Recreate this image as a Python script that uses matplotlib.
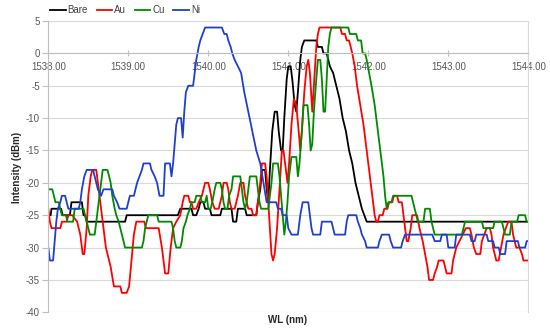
import numpy as np
import matplotlib.pyplot as plt
from matplotlib.ticker import FormatStrFormatter

plt.rcParams['font.family'] = ['Liberation Sans', 'DejaVu Sans']
plt.rcParams['axes.unicode_minus'] = False

# turning points (wavelength in nm, intensity in dBm)
bare_wl = [1538.00, 1538.03, 1538.04, 1538.16, 1538.18, 1538.27, 1538.29, 1538.42, 1538.44, 1538.46,
           1538.48, 1538.96, 1538.98, 1539.62, 1539.65, 1539.79, 1539.81, 1539.85, 1539.88, 1539.90,
           1539.94, 1539.96, 1540.02, 1540.04, 1540.15, 1540.17, 1540.29, 1540.31, 1540.35, 1540.37,
           1540.46, 1540.48, 1540.60, 1540.62, 1540.65, 1540.67, 1540.71, 1540.73, 1540.75, 1540.77,
           1540.80, 1540.83, 1540.86, 1540.88, 1540.91, 1540.93, 1540.95, 1540.98, 1541.00, 1541.03,
           1541.05, 1541.08, 1541.10, 1541.12, 1541.15, 1541.17, 1541.20, 1541.35, 1541.37, 1541.42,
           1541.44, 1541.48, 1541.50, 1541.52, 1541.56, 1541.60, 1541.64, 1541.68, 1541.72, 1541.76,
           1541.80, 1541.84, 1541.88, 1541.92, 1541.95, 1541.98, 1544.00]
bare_db = [-25, -25, -24, -24, -25, -25, -23, -23, -25, -25,
           -26, -26, -25, -25, -24, -24, -25, -25, -24, -23,
           -23, -24, -24, -25, -25, -24, -24, -26, -26, -24,
           -24, -25, -25, -23, -21, -18, -18, -21, -23, -18,
           -12, -9, -9, -12, -15, -15, -10, -4, -2, -2,
           -4, -8, -9, -6, -1, 1, 2, 2, 1, 1,
           0, 0, -1, -2, -3, -5, -7, -10, -12, -15,
           -17, -20, -22, -24, -25, -26, -26]

au_wl = [1538.00, 1538.02, 1538.04, 1538.15, 1538.17, 1538.23, 1538.25, 1538.30, 1538.36, 1538.40,
         1538.43, 1538.45, 1538.48, 1538.50, 1538.53, 1538.55, 1538.60, 1538.63, 1538.67, 1538.72,
         1538.78, 1538.82, 1538.90, 1538.92, 1538.98, 1539.01, 1539.04, 1539.07, 1539.10, 1539.20,
         1539.22, 1539.38, 1539.42, 1539.46, 1539.50, 1539.53, 1539.56, 1539.60, 1539.65, 1539.68,
         1539.70, 1539.75, 1539.77, 1539.79, 1539.81, 1539.85, 1539.88, 1539.92, 1539.96, 1540.00,
         1540.02, 1540.05, 1540.08, 1540.13, 1540.15, 1540.17, 1540.19, 1540.23, 1540.25, 1540.27,
         1540.29, 1540.33, 1540.35, 1540.37, 1540.40, 1540.44, 1540.46, 1540.48, 1540.50, 1540.54,
         1540.56, 1540.60, 1540.62, 1540.65, 1540.67, 1540.71, 1540.73, 1540.75, 1540.77, 1540.79,
         1540.81, 1540.83, 1540.86, 1540.89, 1540.92, 1540.94, 1540.96, 1540.99, 1541.01, 1541.04,
         1541.07, 1541.10, 1541.13, 1541.15, 1541.17, 1541.20, 1541.23, 1541.25, 1541.27, 1541.30,
         1541.32, 1541.35, 1541.37, 1541.39, 1541.65, 1541.67, 1541.71, 1541.73, 1541.76, 1541.78,
         1541.80, 1541.83, 1541.86, 1541.90, 1541.94, 1541.98, 1542.02, 1542.05, 1542.08, 1542.10,
         1542.12, 1542.14, 1542.18, 1542.20, 1542.24, 1542.26, 1542.30, 1542.32, 1542.36, 1542.38,
         1542.42, 1542.45, 1542.48, 1542.50, 1542.53, 1542.55, 1542.61, 1542.64, 1542.68, 1542.71,
         1542.74, 1542.76, 1542.81, 1542.83, 1542.86, 1542.88, 1542.94, 1542.96, 1542.98, 1543.04,
         1543.06, 1543.10, 1543.14, 1543.18, 1543.22, 1543.27, 1543.29, 1543.32, 1543.35, 1543.40,
         1543.42, 1543.45, 1543.48, 1543.52, 1543.54, 1543.56, 1543.58, 1543.60, 1543.63, 1543.66,
         1543.69, 1543.72, 1543.75, 1543.79, 1543.81, 1543.85, 1543.89, 1543.92, 1543.94, 1544.00]
au_db = [-24, -26, -27, -27, -26, -26, -25, -25, -26, -28,
         -31, -31, -27, -22, -19, -18, -18, -21, -25, -30,
         -33, -36, -36, -37, -37, -36, -32, -28, -26, -26,
         -27, -27, -30, -34, -34, -30, -27, -26, -25, -23,
         -22, -22, -23, -23, -24, -24, -23, -22, -20, -20,
         -21, -23, -24, -24, -23, -22, -20, -20, -21, -23,
         -24, -24, -23, -22, -20, -20, -22, -23, -24, -24,
         -25, -25, -23, -20, -17, -17, -19, -23, -27, -31,
         -32, -31, -27, -21, -15, -15, -17, -20, -17, -11,
         -7, -8, -12, -15, -12, -6, -2, -1, -3, -9,
         -5, 1, 3, 4, 4, 3, 3, 2, 2, 1,
         0, -2, -5, -8, -11, -15, -19, -22, -25, -26,
         -26, -25, -25, -24, -24, -23, -23, -22, -22, -23,
         -23, -26, -29, -29, -27, -25, -25, -27, -29, -31,
         -33, -35, -35, -34, -33, -32, -32, -33, -34, -34,
         -32, -30, -29, -28, -27, -27, -28, -30, -31, -31,
         -29, -28, -27, -27, -28, -30, -31, -32, -32, -30,
         -28, -27, -26, -26, -28, -30, -30, -31, -32, -32]

cu_wl = [1538.00, 1538.05, 1538.07, 1538.09, 1538.13, 1538.15, 1538.17, 1538.22, 1538.24, 1538.31,
         1538.33, 1538.44, 1538.46, 1538.48, 1538.50, 1538.52, 1538.58, 1538.60, 1538.62, 1538.64,
         1538.66, 1538.68, 1538.74, 1538.76, 1538.78, 1538.80, 1538.83, 1538.85, 1538.88, 1538.90,
         1538.92, 1538.94, 1538.96, 1539.17, 1539.19, 1539.21, 1539.23, 1539.25, 1539.36, 1539.38,
         1539.54, 1539.56, 1539.58, 1539.60, 1539.65, 1539.67, 1539.69, 1539.72, 1539.74, 1539.77,
         1539.79, 1539.83, 1539.85, 1539.90, 1539.92, 1539.96, 1539.98, 1540.00, 1540.03, 1540.05,
         1540.08, 1540.10, 1540.15, 1540.17, 1540.19, 1540.21, 1540.24, 1540.26, 1540.29, 1540.31,
         1540.40, 1540.42, 1540.44, 1540.46, 1540.48, 1540.50, 1540.52, 1540.60, 1540.62, 1540.64,
         1540.66, 1540.75, 1540.77, 1540.79, 1540.81, 1540.87, 1540.89, 1540.91, 1540.93, 1540.95,
         1540.97, 1540.99, 1541.01, 1541.04, 1541.10, 1541.12, 1541.14, 1541.17, 1541.19, 1541.24,
         1541.26, 1541.28, 1541.30, 1541.32, 1541.35, 1541.37, 1541.40, 1541.42, 1541.44, 1541.46,
         1541.48, 1541.50, 1541.52, 1541.54, 1541.75, 1541.77, 1541.85, 1541.87, 1541.91, 1541.93,
         1541.96, 1541.98, 1542.01, 1542.04, 1542.08, 1542.12, 1542.16, 1542.19, 1542.21, 1542.23,
         1542.25, 1542.29, 1542.31, 1542.54, 1542.56, 1542.58, 1542.60, 1542.62, 1542.69, 1542.71,
         1542.77, 1542.79, 1542.81, 1542.83, 1543.17, 1543.19, 1543.21, 1543.42, 1543.44, 1543.56,
         1543.58, 1543.67, 1543.69, 1543.71, 1543.77, 1543.79, 1543.86, 1543.88, 1543.96, 1543.98,
         1544.00]
cu_db = [-21, -21, -22, -23, -23, -24, -25, -25, -26, -26,
         -24, -24, -25, -26, -27, -28, -28, -26, -24, -22,
         -20, -18, -18, -19, -20, -22, -24, -25, -26, -27,
         -28, -29, -30, -30, -29, -27, -26, -25, -25, -26,
         -26, -27, -29, -30, -30, -29, -27, -26, -25, -24,
         -23, -23, -22, -22, -23, -23, -22, -24, -24, -23,
         -21, -20, -20, -21, -23, -24, -24, -22, -21, -19,
         -19, -21, -23, -24, -23, -21, -19, -19, -21, -23,
         -24, -24, -22, -20, -17, -17, -19, -22, -25, -28,
         -26, -23, -19, -16, -16, -19, -17, -12, -8, -8,
         -11, -15, -14, -9, -4, -1, -1, -4, -9, -9,
         -4, 1, 3, 4, 4, 3, 3, 2, 2, 0,
         0, -1, -3, -5, -8, -12, -16, -19, -22, -24,
         -23, -23, -22, -22, -23, -24, -25, -26, -26, -24,
         -24, -26, -27, -28, -28, -27, -26, -26, -27, -27,
         -26, -26, -27, -28, -28, -26, -26, -25, -25, -26,
         -26]

ni_wl = [1538.00, 1538.02, 1538.06, 1538.08, 1538.10, 1538.12, 1538.15, 1538.17, 1538.21, 1538.23,
         1538.25, 1538.38, 1538.40, 1538.42, 1538.45, 1538.48, 1538.56, 1538.58, 1538.60, 1538.62,
         1538.66, 1538.69, 1538.80, 1538.82, 1538.86, 1538.89, 1538.98, 1539.00, 1539.02, 1539.07,
         1539.09, 1539.11, 1539.14, 1539.17, 1539.19, 1539.27, 1539.29, 1539.33, 1539.36, 1539.39,
         1539.44, 1539.46, 1539.52, 1539.54, 1539.56, 1539.58, 1539.60, 1539.62, 1539.66, 1539.68,
         1539.70, 1539.72, 1539.75, 1539.81, 1539.83, 1539.85, 1539.88, 1539.90, 1539.93, 1539.96,
         1540.17, 1540.20, 1540.23, 1540.25, 1540.28, 1540.30, 1540.33, 1540.37, 1540.41, 1540.45,
         1540.50, 1540.55, 1540.60, 1540.65, 1540.69, 1540.73, 1540.85, 1540.87, 1540.91, 1540.93,
         1540.98, 1541.00, 1541.04, 1541.12, 1541.15, 1541.18, 1541.25, 1541.27, 1541.29, 1541.31,
         1541.40, 1541.42, 1541.54, 1541.56, 1541.58, 1541.71, 1541.73, 1541.75, 1541.85, 1541.87,
         1541.90, 1541.92, 1541.96, 1541.98, 1542.12, 1542.14, 1542.17, 1542.26, 1542.28, 1542.31,
         1542.41, 1542.43, 1542.46, 1542.80, 1542.83, 1542.90, 1542.92, 1542.98, 1543.00, 1543.08,
         1543.10, 1543.27, 1543.29, 1543.33, 1543.35, 1543.48, 1543.50, 1543.56, 1543.58, 1543.63,
         1543.65, 1543.71, 1543.73, 1543.87, 1543.89, 1543.96, 1543.98, 1544.00]
ni_db = [-30, -32, -32, -29, -26, -24, -23, -22, -22, -23,
         -24, -24, -23, -21, -19, -18, -18, -19, -20, -21,
         -22, -21, -21, -22, -23, -24, -24, -23, -22, -22,
         -21, -20, -19, -18, -17, -17, -18, -19, -20, -22,
         -22, -17, -17, -19, -17, -14, -11, -10, -10, -13,
         -9, -6, -5, -5, -3, -1, 1, 2, 3, 4,
         4, 3, 3, 2, 1, 0, -1, -2, -3, -6,
         -9, -12, -15, -17, -20, -23, -23, -24, -24, -25,
         -25, -27, -28, -28, -25, -23, -23, -25, -27, -28,
         -28, -26, -26, -27, -28, -28, -26, -25, -25, -26,
         -27, -28, -29, -30, -30, -29, -28, -28, -29, -30,
         -30, -29, -28, -28, -29, -29, -28, -28, -30, -30,
         -28, -28, -29, -29, -28, -28, -29, -29, -30, -30,
         -31, -31, -29, -29, -30, -30, -29, -29]

series = [("Bare", bare_wl, bare_db, "black"),
          ("Au", au_wl, au_db, "#ff0000"),
          ("Cu", cu_wl, cu_db, "#008a00"),
          ("Ni", ni_wl, ni_db, "#1f3fd0")]

fig = plt.figure(figsize=(5.5, 3.34), dpi=100)
ax = fig.add_axes([0.0878, 0.065, 0.8727, 0.872])

for name, wl, db, col in series:
    ax.plot(wl, db, color=col, lw=1.3, label=name)

ax.set_xlim(1538, 1544)
ax.set_ylim(-40, 5)
ax.set_yticks(np.arange(-40, 6, 5))
ax.set_xticks(np.arange(1538, 1545, 1))
ax.xaxis.set_major_formatter(FormatStrFormatter('%.2f'))
ax.yaxis.grid(True, color='#d9d9d9', lw=0.8)
ax.set_axisbelow(True)

ax.spines['bottom'].set_position(('data', 0))
ax.spines['bottom'].set_color('#bfbfbf')
ax.spines['left'].set_color('#bfbfbf')
ax.spines['right'].set_color('#d9d9d9')
ax.spines['top'].set_visible(False)
ax.tick_params(axis='x', direction='inout', length=5, color='#bfbfbf', pad=4,
               labelsize=7, labelcolor='#595959')
ax.tick_params(axis='y', direction='out', length=4, color='#bfbfbf', pad=2,
               labelsize=7, labelcolor='#595959')

fig.text(17 / 550, 0.5, "Intensity (dBm)", rotation=90, ha='center', va='center',
         fontsize=7, fontweight='bold', color='#262626')
fig.text(288 / 550, 1 - 320 / 334, "WL (nm)", ha='center', va='center',
         fontsize=7, fontweight='bold', color='#262626')

fig.legend(loc='upper left', bbox_to_anchor=(0.075, 1.01), ncol=4, frameon=False,
           fontsize=7, handlelength=1.6, handletextpad=0.2, columnspacing=0.9,
           labelcolor='#404040')

fig.savefig('out.png', dpi=100)
